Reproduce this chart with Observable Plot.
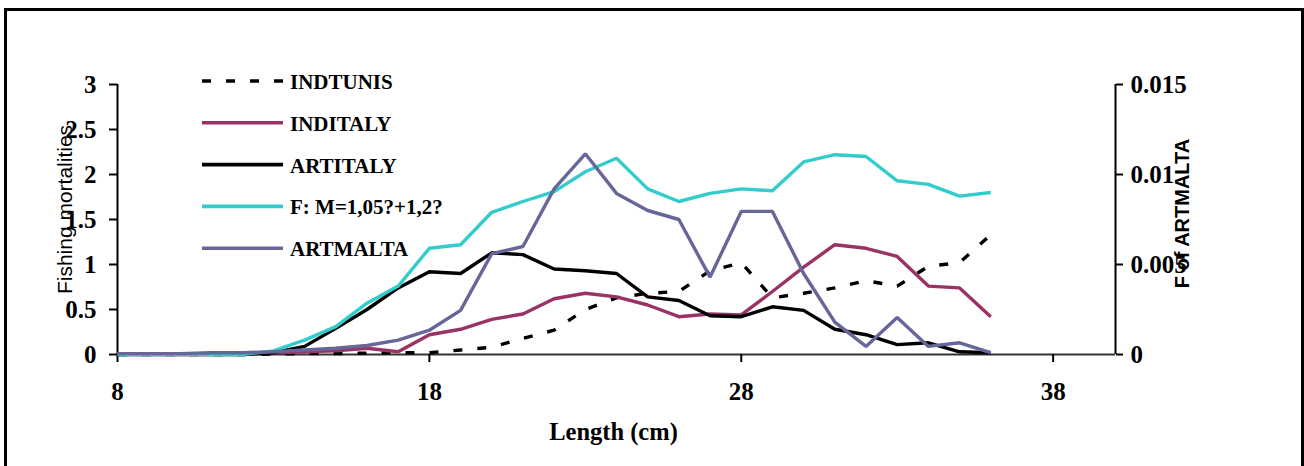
<!DOCTYPE html>
<html>
<head>
<meta charset="utf-8">
<script src="https://cdn.jsdelivr.net/npm/d3@7"></script>
<script src="https://cdn.jsdelivr.net/npm/@observablehq/plot@0.6"></script>
<style>
  html, body { margin: 0; padding: 0; background: #fff; overflow: hidden; }
  #chart { position: relative; width: 1304px; height: 466px; }
  #chart > svg { position: absolute; left: 0; top: 0; }
  #frame { position: absolute; left: 4px; top: 8px; width: 1300px; height: 480px;
           border: 3px solid #000; box-sizing: border-box; pointer-events: none; }
</style>
</head>
<body>
<div id="chart"><div id="frame"></div></div>
<script>
// Length classes (cm)
const lengths = [8, 9, 10, 11, 12, 13, 14, 15, 16, 17, 18, 19, 20, 21, 22, 23, 24, 25, 26, 27, 28, 29, 30, 31, 32, 33, 34, 35, 36];

// Fishing mortality at length, left axis
const indTunis = [0, 0, 0, 0, 0, 0.005, 0.01, 0.01, 0.015, 0.02, 0.02, 0.05, 0.08, 0.18, 0.27, 0.50, 0.63, 0.68, 0.70, 0.93, 1.02, 0.63, 0.68, 0.74, 0.82, 0.76, 0.98, 1.02, 1.33];
const indItaly = [0.01, 0.01, 0.01, 0.01, 0.01, 0.02, 0.03, 0.04, 0.07, 0.03, 0.22, 0.28, 0.39, 0.45, 0.62, 0.68, 0.64, 0.55, 0.42, 0.45, 0.44, 0.70, 0.97, 1.22, 1.18, 1.09, 0.76, 0.74, 0.42];
const artItaly = [0, 0, 0, 0, 0, 0.02, 0.09, 0.29, 0.50, 0.74, 0.92, 0.90, 1.13, 1.11, 0.95, 0.93, 0.90, 0.64, 0.60, 0.43, 0.42, 0.53, 0.49, 0.28, 0.22, 0.11, 0.13, 0.03, 0.02];
const fTotal  = [0, 0, 0, 0, 0, 0.04, 0.16, 0.31, 0.57, 0.76, 1.18, 1.22, 1.58, 1.70, 1.81, 2.03, 2.18, 1.84, 1.70, 1.79, 1.84, 1.82, 2.14, 2.22, 2.20, 1.93, 1.89, 1.76, 1.80];

// Fishing mortality at length, right axis
const artMalta = [0.00005, 0.00005, 0.00005, 0.0001, 0.0001, 0.00015, 0.00025, 0.00035, 0.0005, 0.0008, 0.00135, 0.00245, 0.0056, 0.006, 0.0092, 0.01115, 0.00895, 0.008, 0.0075, 0.0043, 0.00795, 0.00795, 0.0045, 0.0018, 0.00045, 0.00205, 0.00045, 0.00065, 0.0001];

// Series names and styling
const seriesNames  = ["INDTUNIS", "INDITALY", "ARTITALY", "F: M=1,05?+1,2?", "ARTMALTA"];
const seriesColors = ["#000000", "#993366", "#000000", "#33CCCC", "#666699"];
const seriesDash   = ["9,15", null, null, null, null];

// Axis ticks
const xTicks = [8, 18, 28, 38];
const leftTicks = [0, 0.5, 1, 1.5, 2, 2.5, 3];
const rightTicks = [0, 0.005, 0.01, 0.015];

const leftMax = 3, rightMax = 0.015;
const ratio = leftMax / rightMax; // right-axis values expressed on the left scale

const toRows = vals => lengths.map((x, i) => ({x, y: vals[i]}));
const seriesData = [
  toRows(indTunis),
  toRows(indItaly),
  toRows(artItaly),
  toRows(fTotal),
  toRows(artMalta.map(v => v * ratio))
];

const serif = "'Liberation Serif', 'Times New Roman', serif";
const sans = "'Liberation Sans', Arial, sans-serif";

const lineMarks = seriesData.map((rows, i) =>
  Plot.line(rows, {
    x: "x", y: "y",
    stroke: seriesColors[i],
    strokeWidth: 3.4,
    strokeDasharray: seriesDash[i] || undefined,
    strokeLinecap: "butt",
    strokeLinejoin: "miter"
  })
);

const chart = Plot.plot({
  width: 1304,
  height: 466,
  marginLeft: 117,
  marginRight: 189,
  marginTop: 84,
  marginBottom: 112,
  x: {domain: [8, 40]},
  y: {domain: [0, leftMax]},
  style: {fontFamily: serif, color: "#000", background: "transparent", overflow: "visible"},
  marks: [
    // axis lines
    Plot.ruleX([8], {y1: 0, y2: leftMax, stroke: "#000", strokeWidth: 2}),
    Plot.ruleX([40], {y1: 0, y2: leftMax, stroke: "#000", strokeWidth: 2}),
    Plot.ruleY([0], {stroke: "#333", strokeWidth: 2}),
    // left axis
    Plot.axisY(leftTicks, {
      anchor: "left", tickSize: 8, tickPadding: 13, strokeWidth: 2,
      fontSize: 25, fontWeight: "bold", label: null, tickFormat: d => String(d)
    }),
    // right axis (ARTMALTA scale)
    Plot.axisY(rightTicks.map(v => v * ratio), {
      anchor: "right", tickSize: 7, tickPadding: 8, strokeWidth: 2,
      fontSize: 25, fontWeight: "bold", label: null,
      tickFormat: d => String(+(d / ratio).toFixed(3))
    }),
    // bottom axis
    Plot.axisX(xTicks, {
      anchor: "bottom", tickSize: 8, tickPadding: 20, strokeWidth: 2,
      fontSize: 25, fontWeight: "bold", label: null, tickFormat: d => String(d)
    }),
    // axis titles
    Plot.text(["Length (cm)"], {
      text: d => d, frameAnchor: "bottom", dy: 85, dx: -3, textAnchor: "middle",
      fontSize: 24.5, fontWeight: "bold", fontFamily: serif
    }),
    Plot.text(["Fishing mortalities"], {
      text: d => d, frameAnchor: "left", dx: -52, dy: -10, rotate: -90, textAnchor: "middle",
      fontSize: 21, fontFamily: sans
    }),
    Plot.text(["F of ARTMALTA"], {
      text: d => d, frameAnchor: "right", dx: 67, dy: -6, rotate: -90, textAnchor: "middle",
      fontSize: 20, fontWeight: "bold", fontFamily: sans
    }),
    ...lineMarks
  ]
});

const container = document.getElementById("chart");
container.insertBefore(chart, container.firstChild);

// Legend in the upper-left of the plotting area
const legend = d3.select(chart).append("g").attr("class", "legend");
const legendX0 = 202, legendX1 = 283, legendTextX = 290, legendY0 = 81, legendStep = 41.8;
seriesNames.forEach((name, i) => {
  const y = legendY0 + i * legendStep;
  legend.append("line")
    .attr("x1", legendX0).attr("x2", legendX1)
    .attr("y1", y).attr("y2", y)
    .attr("stroke", seriesColors[i])
    .attr("stroke-width", 3.6)
    .attr("stroke-dasharray", seriesDash[i])
    .attr("stroke-linecap", "butt");
  legend.append("text")
    .attr("x", legendTextX).attr("y", y + 1)
    .attr("text-anchor", "start")
    .attr("dominant-baseline", "central")
    .attr("font-family", serif)
    .attr("font-weight", "bold")
    .attr("font-size", 21)
    .attr("fill", "#000")
    .text(name);
});
</script>
</body>
</html>
